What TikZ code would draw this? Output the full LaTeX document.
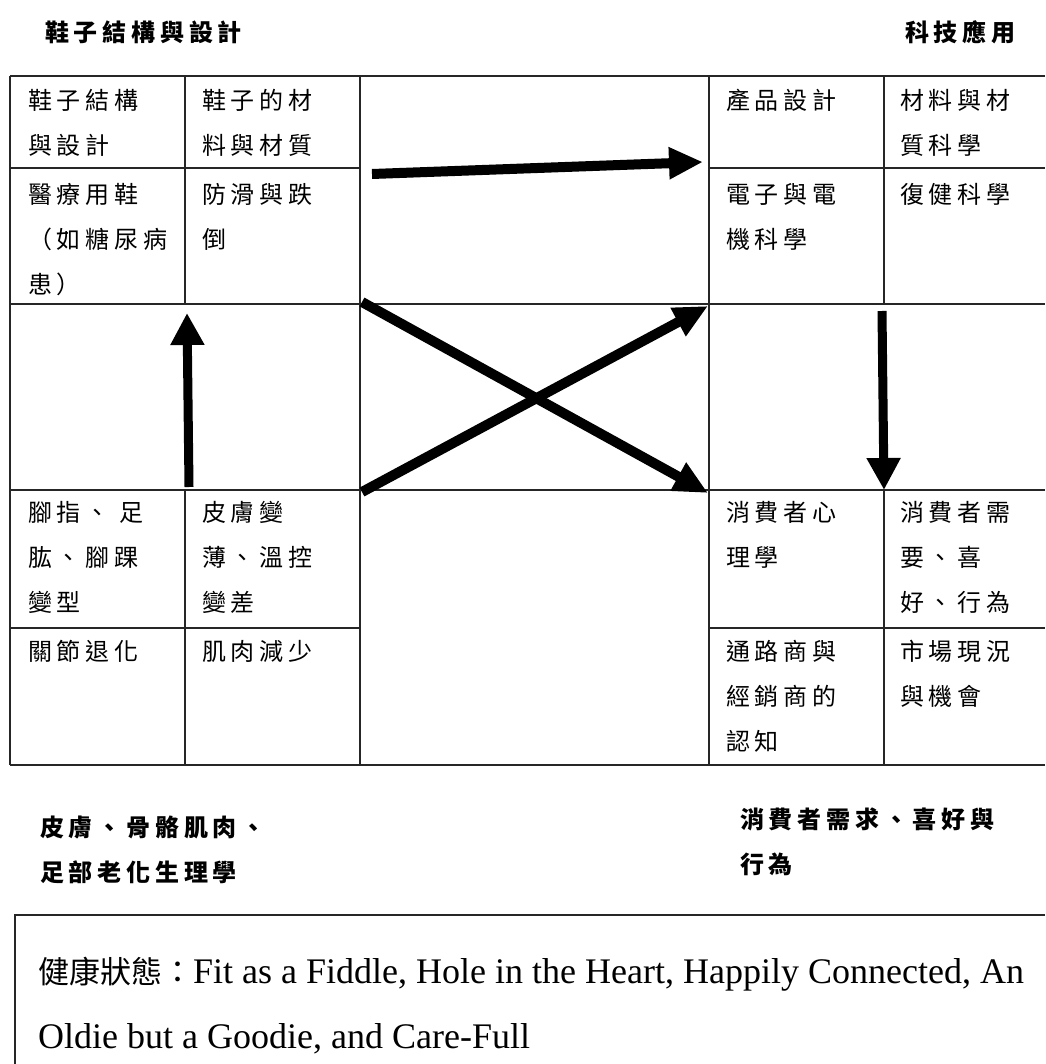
\documentclass[tikz,border=0pt]{standalone}
\usepackage{fontspec}
\setmainfont{Liberation Serif}
\newfontfamily\cjk{Noto Sans CJK TC}[LetterSpace=20]
\newfontfamily\cjkbox{Noto Sans CJK TC}
\usetikzlibrary{arrows.meta}

\begin{document}
\begin{tikzpicture}[x=1pt,y=-1pt,
  tableline/.style={line width=1.2pt,black!85},
  celltext/.style={anchor=north west,inner sep=0pt,align=left,font=\cjk\fontsize{24}{45}\selectfont},
  headtext/.style={anchor=north west,inner sep=0pt,align=left,font=\cjk\bfseries\fontsize{24}{45}\selectfont},
  fatarrow/.style={line width=10pt,-{Triangle[length=34pt,width=30pt]}},
  slimarrow/.style={line width=9pt,-{Triangle[length=32pt,width=32pt]}}]

\useasboundingbox (0,0) rectangle (1045,1064);

\draw[tableline] (10,76) -- (1045,76);
\draw[tableline] (10,168) -- (360,168);
\draw[tableline] (709,168) -- (1045,168);
\draw[tableline] (10,304) -- (1045,304);
\draw[tableline] (10,490) -- (1045,490);
\draw[tableline] (10,628) -- (360,628);
\draw[tableline] (709,628) -- (1045,628);
\draw[tableline] (10,765) -- (1045,765);

\draw[tableline] (10,76) -- (10,765);
\draw[tableline] (185,76) -- (185,304);
\draw[tableline] (185,490) -- (185,765);
\draw[tableline] (360,76) -- (360,765);
\draw[tableline] (709,76) -- (709,765);
\draw[tableline] (884,76) -- (884,304);
\draw[tableline] (884,490) -- (884,765);

\draw[tableline] (15,1064) -- (15,915) -- (1045,915);

\node[headtext,anchor=west] (shoe) at (45,32) {鞋子結構與設計};
\node[headtext,anchor=west] (tech) at (905,32) {科技應用};
\node[headtext] (aging) at (40,816) {皮膚、骨骼肌肉、\\足部老化生理學};
\node[headtext] (consumer) at (740,808) {消費者需求、喜好與\\行為};

\node[celltext] (a1) at (28,89) {鞋子結構\\與設計};
\node[celltext] (a2) at (202,89) {鞋子的材\\料與材質};
\node[celltext] (a4) at (726,89) {產品設計};
\node[celltext] (a5) at (900,89) {材料與材\\質科學};

\node[celltext] (b1) at (28,183) {醫療用鞋\\（如糖尿病\\患）};
\node[celltext] (b2) at (202,183) {防滑與跌\\倒};
\node[celltext] (b4) at (726,183) {電子與電\\機科學};
\node[celltext] (b5) at (900,183) {復健科學};

\node[celltext] (c1) at (28,501) {腳指、 足\\肱、腳踝\\變型};
\node[celltext] (c2) at (202,501) {皮膚變\\薄、溫控\\變差};
\node[celltext] (c4) at (726,501) {消費者心\\理學};
\node[celltext] (c5) at (900,501) {消費者需\\要、喜\\好、行為};

\node[celltext] (d1) at (28,640) {關節退化};
\node[celltext] (d2) at (202,640) {肌肉減少};
\node[celltext] (d4) at (726,640) {通路商與\\經銷商的\\認知};
\node[celltext] (d5) at (900,640) {市場現況\\與機會};

\node[anchor=north west,inner sep=0pt,align=left,font=\fontsize{36}{65}\selectfont] (health) at (38,957)
  {{\cjkbox\fontsize{31}{65}\selectfont 健康狀態：}Fit as a Fiddle, Hole in the Heart, Happily Connected, An\\Oldie but a Goodie, and Care-Full};

\coordinate (toptail) at (372,174);
\coordinate (tophead) at (703,162);
\coordinate (uptail) at (189,487);
\coordinate (uphead) at (187,313);
\coordinate (downtail) at (882,311);
\coordinate (downhead) at (884,490);
\coordinate (xa) at (362,302);
\coordinate (xb) at (708,493);
\coordinate (xc) at (362,492);
\coordinate (xd) at (708,306);

\draw[fatarrow] (toptail) -- (tophead);
\draw[slimarrow] (uptail) -- (uphead);
\draw[slimarrow] (downtail) -- (downhead);
\draw[fatarrow] (xa) -- (xb);
\draw[fatarrow] (xc) -- (xd);

\end{tikzpicture}
\end{document}
